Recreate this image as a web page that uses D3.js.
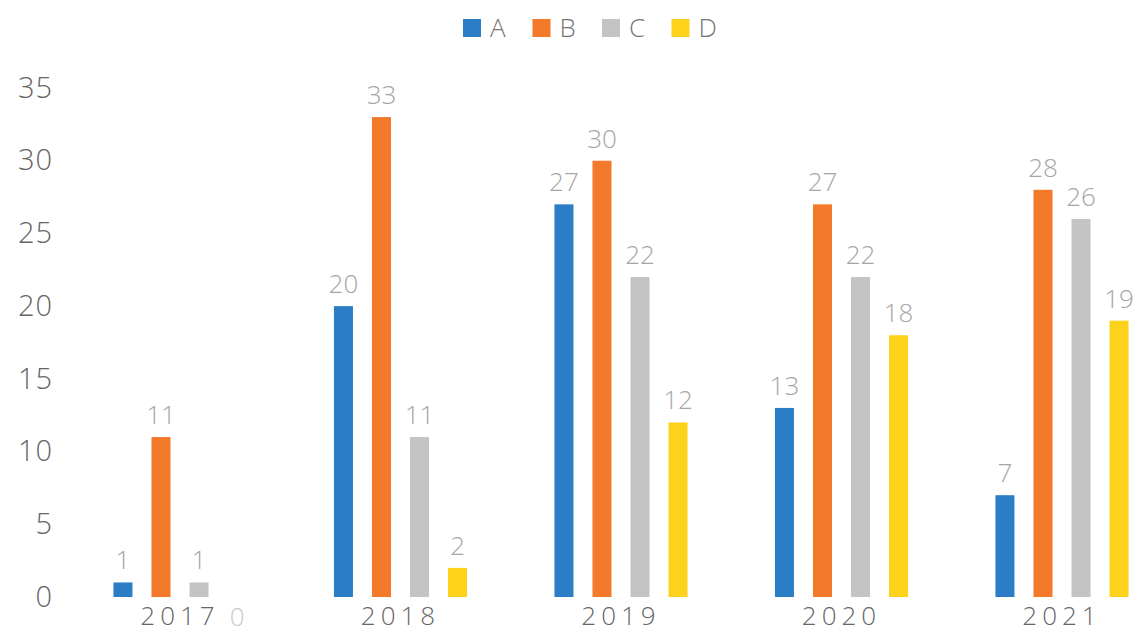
<!DOCTYPE html>
<html>
<head>
<meta charset="utf-8">
<script src="https://cdn.jsdelivr.net/npm/d3@7"></script>
<style>
  body { margin: 0; background: #fff; }
  svg text { font-family: "Open Sans", "DejaVu Sans", sans-serif; font-weight: 300; }
</style>
</head>
<body>
<div id="chart"></div>
<script>
// data
const years = ["2017", "2018", "2019", "2020", "2021"];
const seriesNames = ["A", "B", "C", "D"];
const valuesA = [1, 20, 27, 13, 7];
const valuesB = [11, 33, 30, 27, 28];
const valuesC = [1, 11, 22, 22, 26];
const valuesD = [0, 2, 12, 18, 19];
const yTickValues = [0, 5, 10, 15, 20, 25, 30, 35];
const colors = ["#2b7dc6", "#f27a2a", "#c4c4c4", "#fdd21a"];

const width = 1138, height = 634;

const allValues = [valuesA, valuesB, valuesC, valuesD];
const rows = years.map((yr, i) => ({
  year: yr,
  vals: seriesNames.map((s, j) => ({ key: s, value: allValues[j][i], color: colors[j] }))
}));

const svg = d3.select('#chart')
  .append('svg')
  .attr('width', width)
  .attr('height', height);

const y = d3.scaleLinear()
  .domain([0, 35])
  .range([597, 88]);

const x0 = d3.scaleBand()
  .domain(years)
  .range([69.75, 1172.25])
  .paddingInner(0.31)
  .paddingOuter(0.155);

const x1 = d3.scaleBand()
  .domain(seriesNames)
  .range([0, x0.bandwidth()])
  .paddingInner(0.5)
  .paddingOuter(0.25);

// y axis labels only (no line, no ticks)
const yAxis = d3.axisLeft(y).tickValues(yTickValues).tickSize(0).tickPadding(0);
const gy = svg.append('g')
  .attr('transform', 'translate(53,0)')
  .call(yAxis);
gy.select('.domain').remove();
gy.selectAll('text')
  .attr('fill', '#666')
  .style('font-size', '29px')
  .style('letter-spacing', '1px')
  .style('font-family', '"Open Sans", "DejaVu Sans", sans-serif');

// category labels
const xAxis = d3.axisBottom(x0).tickSize(0).tickPadding(0);
const gx = svg.append('g')
  .attr('transform', 'translate(0,' + (y(0) + 10) + ')')
  .call(xAxis);
gx.select('.domain').remove();
gx.selectAll('text')
  .attr('fill', '#666')
  .attr('dy', '0.71em')
  .style('font-size', '26px')
  .style('letter-spacing', '5px')
  .style('font-family', '"Open Sans", "DejaVu Sans", sans-serif');

const groups = svg.selectAll('g.year')
  .data(rows)
  .enter()
  .append('g')
  .attr('class', 'year')
  .attr('transform', d => 'translate(' + x0(d.year) + ',0)');

groups.selectAll('rect')
  .data(d => d.vals)
  .enter()
  .append('rect')
  .attr('x', d => x1(d.key))
  .attr('y', d => y(d.value))
  .attr('width', x1.bandwidth())
  .attr('height', d => y(0) - y(d.value))
  .attr('fill', d => d.color);

// value labels
groups.selectAll('text.val')
  .data(d => d.vals)
  .enter()
  .append('text')
  .attr('class', 'val')
  .attr('x', d => x1(d.key) + x1.bandwidth() / 2)
  .attr('y', d => d.value === 0 ? y(0) + 29 : y(d.value) - 13)
  .attr('text-anchor', 'middle')
  .attr('fill', d => d.value === 0 ? '#c8c8c8' : '#a6a6a6')
  .style('font-size', '26px')
  .text(d => d.value);

// legend
const legend = svg.append('g').attr('transform', 'translate(463,19)');
const li = legend.selectAll('g')
  .data(seriesNames)
  .enter()
  .append('g')
  .attr('transform', (d, i) => 'translate(' + (i * 69.5) + ',0)');
li.append('rect')
  .attr('width', 18)
  .attr('height', 18)
  .attr('fill', (d, i) => colors[i]);
li.append('text')
  .attr('x', 27)
  .attr('y', 18)
  .attr('fill', '#777')
  .style('font-size', '26px')
  .text(d => d);
</script>
</body>
</html>
